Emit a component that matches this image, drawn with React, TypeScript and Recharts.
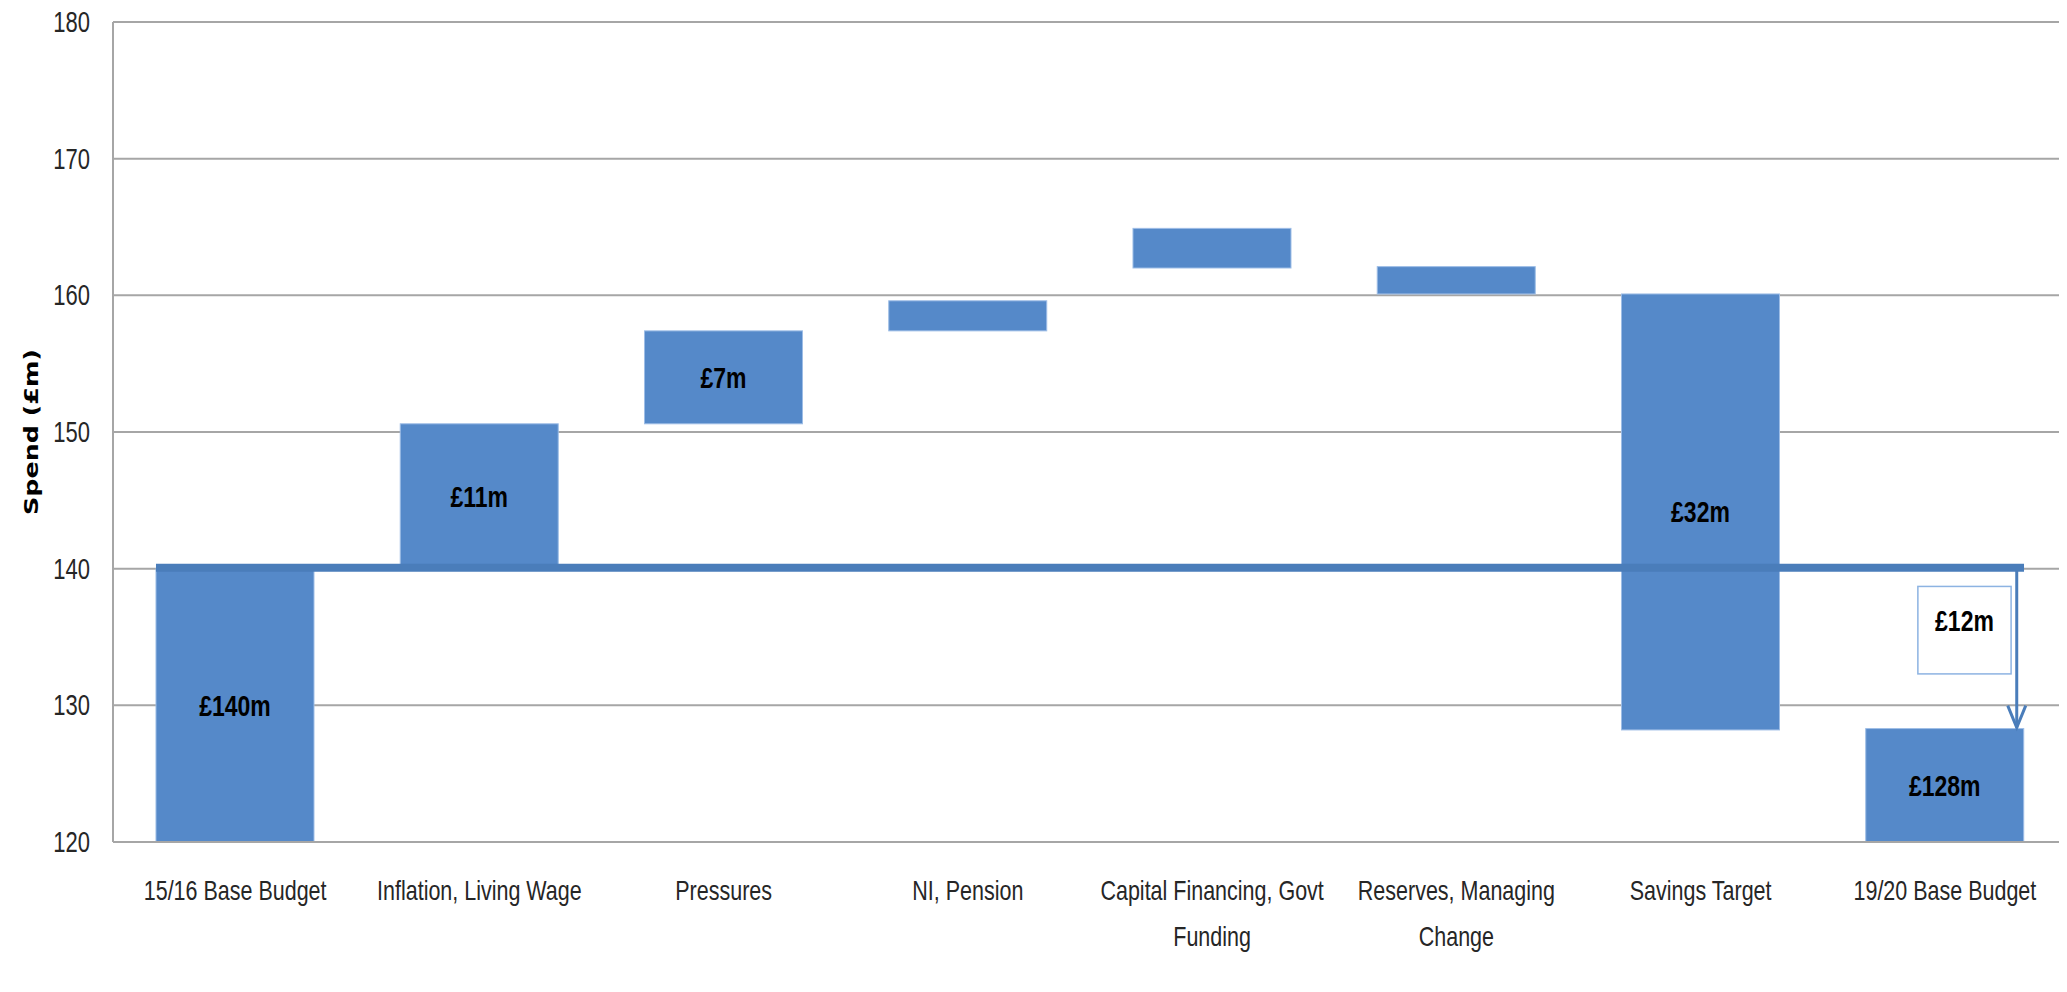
import React from "react";
import { BarChart, Bar, XAxis, YAxis, CartesianGrid, ReferenceLine, LabelList } from "recharts";

const categories = [
  "15/16 Base Budget",
  "Inflation, Living Wage",
  "Pressures",
  "NI, Pension",
  "Capital Financing, Govt Funding",
  "Reserves,  Managing Change",
  "Savings Target",
  "19/20 Base Budget",
];
const lows = [0, 140, 150.6, 157.4, 162.0, 160.1, 128.2, 0];
const highs = [140, 150.6, 157.4, 159.6, 164.9, 162.1, 160.1, 128.3];
const barLabels = ["£140m", "£11m", "£7m", "", "", "", "£32m", "£128m"];
const yTicks = [120, 130, 140, 150, 160, 170, 180];
const baseline = 140;
const dropLabel = "£12m";

const yMin = yTicks[0];
const yMax = yTicks[yTicks.length - 1];

const data = categories.map((name, i) => ({
  name,
  range: [Math.max(lows[i], yMin), highs[i]],
  label: barLabels[i],
}));

const FONT = "'Liberation Sans', Arial, sans-serif";
const BAR = "#5589C9";
const LINE = "#4A7DBA";
const GRID = "#A6A6A6";
const GAP = 0.176;
// the source picture is stretched vertically, so text is drawn taller than wide
const SY = 1.3;

let measureCtx: CanvasRenderingContext2D | null = null;
function textWidth(s: string, font: string) {
  if (!measureCtx) measureCtx = document.createElement("canvas").getContext("2d");
  if (!measureCtx) return s.length * 10;
  measureCtx.font = font;
  return measureCtx.measureText(s).width;
}

function wrapWords(label: string, maxW: number, font: string) {
  const words = label.split(/\s+/);
  const lines: string[] = [];
  let cur = "";
  for (const w of words) {
    const t = cur ? cur + " " + w : w;
    if (cur && textWidth(t, font) > maxW) {
      lines.push(cur);
      cur = w;
    } else cur = t;
  }
  if (cur) lines.push(cur);
  return lines;
}

function TallText({ x, y, size, bold, anchor = "middle", children }: any) {
  return (
    <text
      transform={`translate(${x}, ${y}) scale(1, ${SY})`}
      textAnchor={anchor}
      fontFamily={FONT}
      fontWeight={bold ? "bold" : "normal"}
      fontSize={size}
      fill={bold ? "#000" : "#262626"}
    >
      {children}
    </text>
  );
}

function CategoryTick(props: any) {
  const { x, y, payload } = props;
  const lines = wrapWords(payload.value, 236, `21.5px ${FONT}`);
  return (
    <g>
      {lines.map((ln, i) => (
        <TallText key={i} x={x} y={y + 50 + i * 46} size={21.5}>
          {ln}
        </TallText>
      ))}
    </g>
  );
}

function ValueTick(props: any) {
  const { x, y, payload } = props;
  return (
    <TallText x={x} y={y + 10} size={22} anchor="end">
      {payload.value}
    </TallText>
  );
}

function BarLabel(props: any) {
  const { x, y, width, height, value } = props;
  if (!value) return null;
  return (
    <TallText x={x + width / 2} y={y + height / 2 + 10.5} size={23} bold>
      {value}
    </TallText>
  );
}

// bar rect; the final bar also carries the drop arrow and its label box
function WaterfallBar(props: any) {
  const { x, y, width, height, index, payload } = props;
  const rect = <rect x={x} y={y} width={width} height={height} fill={BAR} stroke="#9DBDE6" strokeWidth={1} />;
  if (index !== categories.length - 1) return rect;
  const [lo, hi] = payload.range;
  const ppu = height / (hi - lo);
  const yBase = y - (baseline - hi) * ppu;
  const ax = x + width - 7;
  return (
    <g>
      {rect}
      <line x1={ax} y1={yBase} x2={ax} y2={y - 1} stroke={LINE} strokeWidth={3} />
      <polyline
        points={`${ax - 9},${y - 23} ${ax},${y - 1} ${ax + 9},${y - 23}`}
        fill="none"
        stroke={LINE}
        strokeWidth={3}
      />
      <rect
        x={x + width * 0.33}
        y={yBase + 1.3 * ppu}
        width={width * 0.59}
        height={6.4 * ppu}
        fill="#fff"
        stroke="#8DB3E2"
        strokeWidth={1.5}
      />
      <TallText x={x + width * 0.625} y={yBase + 3.8 * ppu + 10.5} size={23} bold>
        {dropLabel}
      </TallText>
    </g>
  );
}

function BaselineShape(props: any) {
  const { x1, x2, y1 } = props;
  const bw = (x2 - x1) / categories.length;
  const inset = bw * GAP;
  return <line x1={x1 + inset} y1={y1 - 1} x2={x2 - inset} y2={y1 - 1} stroke={LINE} strokeWidth={8} />;
}

function AxisTitle(p: any) {
  const vb = p.viewBox;
  const cx = vb.x - 2;
  const cy = vb.y + vb.height / 2;
  return (
    <text
      transform={`translate(${cx}, ${cy}) scale(1, ${SY}) rotate(-90)`}
      textAnchor="middle"
      dominantBaseline="central"
      fontFamily="'DejaVu Sans', sans-serif"
      fontWeight="bold"
      fontSize={19.5}
      fill="#000"
    >
      Spend (£m)
    </text>
  );
}

export default function App() {
  return (
    <div style={{ width: 2067, height: 970, marginLeft: -8, marginTop: -8, background: "#fff" }}>
      <BarChart
        width={2067}
        height={970}
        data={data}
        barCategoryGap={`${GAP * 100}%`}
        margin={{ top: 22, right: 0, bottom: 18, left: 33 }}
      >
        <CartesianGrid vertical={false} stroke={GRID} strokeWidth={2} />
        <XAxis
          dataKey="name"
          interval={0}
          height={110}
          tickLine={false}
          axisLine={{ stroke: GRID, strokeWidth: 2 }}
          tick={<CategoryTick />}
        />
        <YAxis
          width={80}
          domain={[yMin, yMax]}
          ticks={yTicks}
          tickLine={false}
          tickMargin={17}
          axisLine={{ stroke: GRID, strokeWidth: 2 }}
          tick={<ValueTick />}
          label={{ content: (p: any) => <AxisTitle {...p} /> }}
        />
        <Bar dataKey="range" fill={BAR} isAnimationActive={false} shape={(p: any) => <WaterfallBar {...p} />}>
          <LabelList dataKey="label" content={(p: any) => <BarLabel {...p} />} />
        </Bar>
        <ReferenceLine y={baseline} shape={(p: any) => <BaselineShape {...p} />} />
      </BarChart>
    </div>
  );
}
